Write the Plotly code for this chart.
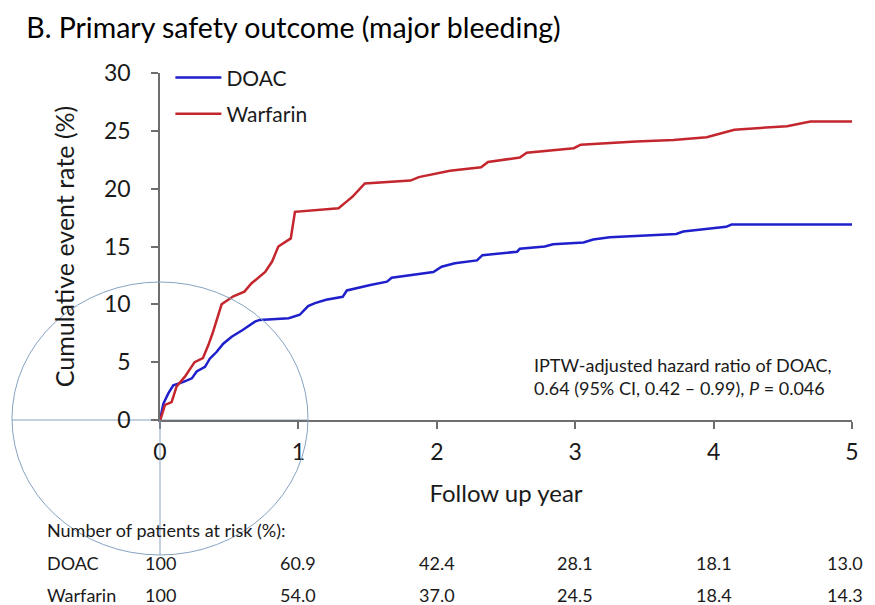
import plotly.graph_objects as go

# Kaplan-Meier style cumulative incidence
doac_year = [0, 0.012, 0.024, 0.06, 0.096, 0.17, 0.23, 0.265, 0.325, 0.36, 0.41, 0.457,
             0.518, 0.60, 0.686, 0.72, 0.93, 1.01, 1.07, 1.12, 1.20, 1.32, 1.35, 1.52,
             1.64, 1.674, 1.975, 2.035, 2.13, 2.29, 2.33, 2.58, 2.60, 2.78, 2.84, 3.06,
             3.13, 3.25, 3.47, 3.73, 3.78, 4.09, 4.13, 5.0]
doac_rate = [0, 0.6, 1.4, 2.3, 3.0, 3.3, 3.6, 4.2, 4.6, 5.3, 5.9, 6.6,
             7.2, 7.8, 8.5, 8.65, 8.8, 9.1, 9.85, 10.1, 10.4, 10.65, 11.2, 11.67,
             11.96, 12.3, 12.8, 13.25, 13.55, 13.8, 14.25, 14.55, 14.8, 15.0, 15.2, 15.35,
             15.6, 15.8, 15.9, 16.08, 16.3, 16.7, 16.9, 16.9]

warf_year = [0, 0.01, 0.036, 0.084, 0.12, 0.18, 0.25, 0.31, 0.35, 0.38, 0.445, 0.53,
             0.61, 0.66, 0.76, 0.81, 0.855, 0.93, 0.945, 0.975, 1.29, 1.35, 1.39, 1.48,
             1.81, 1.87, 2.095, 2.32, 2.37, 2.60, 2.65, 2.99, 3.04, 3.44, 3.71, 3.95,
             4.15, 4.53, 4.70, 5.0]
warf_rate = [0, 0.3, 1.3, 1.55, 2.9, 3.75, 5.0, 5.35, 6.5, 7.5, 10.0, 10.7,
             11.1, 11.8, 12.8, 13.7, 15.0, 15.55, 15.7, 18.0, 18.3, 18.9, 19.3, 20.45,
             20.7, 21.0, 21.55, 21.85, 22.3, 22.7, 23.1, 23.5, 23.8, 24.07, 24.2, 24.45,
             25.1, 25.4, 25.8, 25.8]

# numbers at risk
risk_years = [0, 1, 2, 3, 4, 5]
risk_doac = ["100", "60.9", "42.4", "28.1", "18.1", "13.0"]
risk_warf = ["100", "54.0", "37.0", "24.5", "18.4", "14.3"]

FONT = "Lato"
TXT = "#1a1a1a"
AXIS = "#6e6e6e"
BLUE = "#1f1fcc"
RED = "#c4262e"
RING = "#86a2c2"

fig = go.Figure()
fig.add_trace(go.Scatter(x=doac_year, y=doac_rate, mode="lines", name="DOAC",
                         legendgroup="d", line=dict(color=BLUE, width=2.5)))
fig.add_trace(go.Scatter(x=warf_year, y=warf_rate, mode="lines", name="Warfarin",
                         legendgroup="w", line=dict(color=RED, width=2.5)))

# risk table below the axis (x in data units, y in paper units)
annos = [
    dict(text="Number of patients at risk (%):", x=-0.1662, y=-0.317, xanchor="left"),
    dict(text="DOAC", x=-0.1662, y=-0.412, xanchor="left"),
    dict(text="Warfarin", x=-0.1662, y=-0.504, xanchor="left"),
]
for a in annos:
    a.update(xref="paper", yref="paper", yanchor="middle", showarrow=False,
             font=dict(family=FONT, size=18, color=TXT))
for yr, d, w in zip(risk_years, risk_doac, risk_warf):
    # last column is pushed against the right edge, as in the source
    last = yr == risk_years[-1]
    for txt, yy in [(d, -0.412), (w, -0.504)]:
        annos.append(dict(text=txt, x=yr, y=yy, xref="x", yref="paper",
                          xanchor="right" if last else "center",
                          xshift=13 if last else 0,
                          yanchor="middle", showarrow=False,
                          font=dict(family=FONT, size=18, color=TXT)))
annos.append(dict(
    text="IPTW-adjusted hazard ratio of DOAC,<br>0.64 (95% CI, 0.42 \u2013 0.99), <i>P</i> = 0.046",
    x=0.5376, y=0.125, xref="paper", yref="paper", xanchor="left", yanchor="middle",
    align="left", showarrow=False, font=dict(family=FONT, size=18, color=TXT)))

# the thin crosshair ring that sits over the origin in the source image
ring = dict(color=RING, width=1)
shapes = [
    dict(type="circle", xref="paper", yref="paper", x0=-0.2139, x1=0.2139,
         y0=-0.3890, y1=0.3977, line=ring, layer="above"),
    dict(type="line", xref="paper", yref="paper", x0=-0.2139, x1=0.2139,
         y0=0, y1=0, line=ring, layer="below"),
    dict(type="line", xref="paper", yref="paper", x0=0, x1=0,
         y0=-0.3890, y1=0, line=ring, layer="above"),
]

# the page body adds an 8px margin, so the figure is 8px smaller than the window
fig.update_layout(
    width=867, height=597,
    margin=dict(l=152, r=23, t=65, b=185),
    paper_bgcolor="white", plot_bgcolor="white",
    font=dict(family=FONT, color=TXT),
    title=dict(text="B. Primary safety outcome (major bleeding)", xref="container",
               x=0.021, xanchor="left", y=0.966, yanchor="middle",
               font=dict(family=FONT, size=28.5, color="black")),
    legend=dict(x=0.015, y=1.045, xanchor="left", yanchor="top", itemwidth=46,
                font=dict(family=FONT, size=21, color=TXT),
                bgcolor="rgba(0,0,0,0)", tracegroupgap=6),
    annotations=annos,
    shapes=shapes,
)
fig.update_xaxes(range=[0, 5], tickvals=risk_years, showgrid=False, zeroline=False,
                 automargin=False,
                 showline=True, linecolor=AXIS, linewidth=1.5,
                 ticks="outside", ticklen=7, tickcolor=AXIS, tickwidth=1.5,
                 tickfont=dict(family=FONT, size=23, color=TXT),
                 ticklabelstandoff=4,
                 title=dict(text="Follow up year", standoff=21,
                            font=dict(family=FONT, size=24, color=TXT)))
fig.update_yaxes(range=[0, 30], tickvals=[0, 5, 10, 15, 20, 25, 30], showgrid=False,
                 automargin=False,
                 zeroline=False, showline=True, linecolor=AXIS, linewidth=1.5,
                 ticks="outside", ticklen=7, tickcolor=AXIS, tickwidth=1.5,
                 tickfont=dict(family=FONT, size=23, color=TXT),
                 ticklabelstandoff=16,
                 title=dict(text="Cumulative event rate (%)", standoff=22,
                            font=dict(family=FONT, size=25, color=TXT)))

fig.write_html("out.html")
